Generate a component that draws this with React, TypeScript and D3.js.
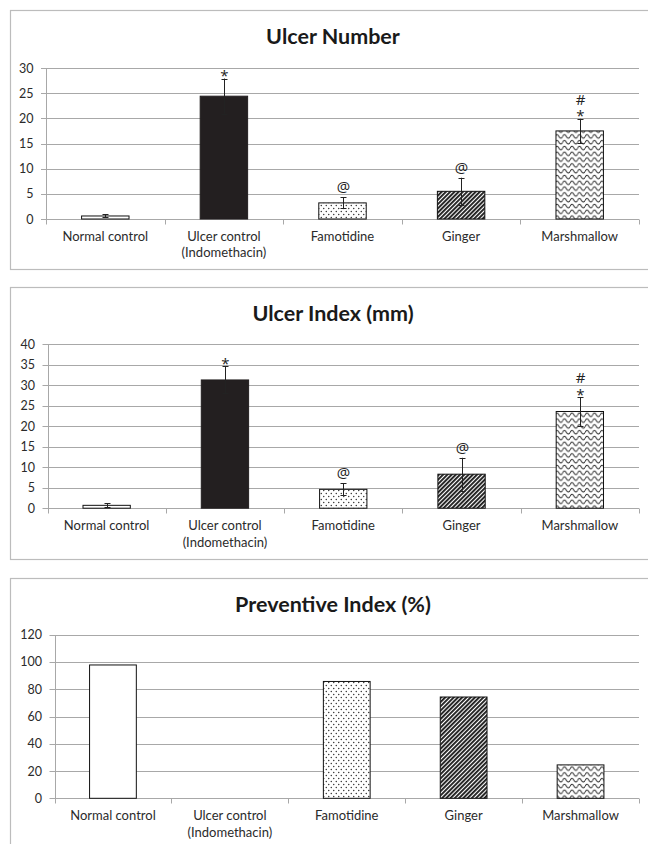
import * as d3 from "d3";

// three stacked bar panels, excel-ish look
const categories = [
  ["Normal control"],
  ["Ulcer control", "(Indomethacin)"],
  ["Famotidine"],
  ["Ginger"],
  ["Marshmallow"],
];

const ulcerNumber = [0.6, 24.4, 3.2, 5.5, 17.5];
const ulcerNumberSD = [0.3, 3.5, 1.1, 2.7, 2.4];
const ulcerNumberTicks = [0, 5, 10, 15, 20, 25, 30];

const ulcerIndex = [0.7, 31.3, 4.6, 8.3, 23.6];
const ulcerIndexSD = [0.5, 3.3, 1.5, 4.0, 3.5];
const ulcerIndexTicks = [0, 5, 10, 15, 20, 25, 30, 35, 40];

const preventiveIndex = [97.8, 0, 85.7, 74.3, 24.5];
const preventiveTicks = [0, 20, 40, 60, 80, 100, 120];

// significance signs above each bar (bottom one last)
const signs = [[], ["*"], ["@"], ["@"], ["#", "*"]];

const FONT = "Lato, 'Open Sans', sans-serif";
const SIGN_FONT = "'Open Sans', 'DejaVu Sans', sans-serif";
const barFills = ["#ffffff", "#231f20", "url(#dots)", "url(#stripes)", "url(#waves)"];
const PLOT_RIGHT = 639;

const crisp = (v: number) => Math.round(v) + 0.5;

type PanelProps = {
  title: string;
  values: number[];
  sd?: number[];
  marks?: string[][];
  ticks: number[];
  frameTop: number;
  frameBottom: number;
  titleY: number;
  yTop: number;
  yZero: number;
  axisX: number;
};

function Panel({ title, values, sd, marks, ticks, frameTop, frameBottom, titleY, yTop, yZero, axisX }: PanelProps) {
  const keys = categories.map((c) => c.join(" "));
  const x = d3.scaleBand<string>().domain(keys).range([axisX, PLOT_RIGHT]);
  const y = d3.scaleLinear().domain([0, d3.max(ticks)!]).range([yZero, yTop]);
  const barW = x.bandwidth() * 0.4;
  const y0 = crisp(y(0));

  return (
    <g>
      <rect x={10.5} y={frameTop + 0.5} width={700} height={frameBottom - frameTop} fill="#fff" stroke="#bcbcbc" strokeWidth={1.2} />
      <text x={333} y={titleY} textAnchor="middle" fontFamily={FONT} fontWeight={700} fontSize={21.5} fill="#1a1a1a">
        {title}
      </text>

      {/* gridlines + y ticks */}
      {ticks.map((t) => (
        <g key={t}>
          <line x1={axisX - 5} x2={PLOT_RIGHT} y1={crisp(y(t))} y2={crisp(y(t))} stroke="#a8a8a8" />
          <text x={axisX - 12.5} y={y(t)} dy="0.36em" textAnchor="end" fontFamily={FONT} fontSize={12.5} fill="#2b2b2b">
            {t}
          </text>
        </g>
      ))}
      <line x1={crisp(axisX)} x2={crisp(axisX)} y1={y0} y2={crisp(y(d3.max(ticks)!))} stroke="#a8a8a8" />
      <line x1={axisX} x2={PLOT_RIGHT} y1={y0} y2={y0} stroke="#a8a8a8" />
      {d3.range(keys.length + 1).map((i) => {
        const tx = crisp(axisX + i * x.step());
        return <line key={i} x1={tx} x2={tx} y1={y0} y2={y0 + 5} stroke="#a8a8a8" />;
      })}

      {/* bars */}
      {values.map((v, i) => {
        if (v <= 0) return null;
        const cx = x(keys[i])! + x.bandwidth() / 2;
        const top = y(v);
        return (
          <rect key={i} x={cx - barW / 2} y={top} width={barW} height={y(0) - top}
            fill={barFills[i]} stroke={i === 1 ? "#231f20" : "#111"} strokeWidth={1} />
        );
      })}

      {/* error bars + signs */}
      {sd &&
        values.map((v, i) => {
          const cx = crisp(x(keys[i])! + x.bandwidth() / 2);
          const hi = y(v + sd[i]);
          const lo = y(Math.max(0, v - sd[i]));
          let cursor = hi;
          const spans = (marks?.[i] || []).slice().reverse().map((s, j) => {
            let center;
            let base;
            if (s === "*") {
              center = cursor - 6.5;
              base = center + 9;
              cursor = center - 5;
            } else if (s === "#") {
              center = cursor - 8;
              base = center + 5.5;
              cursor = center - 6;
            } else {
              center = cursor - 9;
              base = center + 4;
              cursor = center - 7;
            }
            return (
              <tspan key={j} x={cx} y={base}>
                {s}
              </tspan>
            );
          });
          return (
            <g key={i}>
              <line x1={cx} x2={cx} y1={lo} y2={hi} stroke="#222" />
              <line x1={cx - 3} x2={cx + 3} y1={crisp(hi)} y2={crisp(hi)} stroke="#222" />
              <line x1={cx - 3} x2={cx + 3} y1={crisp(lo)} y2={crisp(lo)} stroke="#222" />
              {spans.length > 0 && (
                <text textAnchor="middle" fontFamily={SIGN_FONT} fontSize={15} fill="#222">
                  {spans.reverse()}
                </text>
              )}
            </g>
          );
        })}

      {/* category labels */}
      {categories.map((lines, i) => (
        <text key={i} textAnchor="middle" fontFamily={FONT} fontSize={13} fill="#2b2b2b">
          {lines.map((l, j) => (
            <tspan key={j} x={x(keys[i])! + x.bandwidth() / 2} y={y(0) + 22 + j * 16.3}>
              {l}
            </tspan>
          ))}
        </text>
      ))}
    </g>
  );
}

export default function App() {
  return (
    <svg width={648} height={844} style={{ position: "absolute", left: 0, top: 0, background: "#fff" }}>
      <defs>
        <pattern id="dots" width={5} height={6} patternUnits="userSpaceOnUse">
          <rect width={5} height={6} fill="#fff" />
          <circle cx={1.25} cy={1.5} r={0.7} fill="#222" />
          <circle cx={3.75} cy={4.5} r={0.7} fill="#222" />
        </pattern>
        <pattern id="stripes" width={3} height={3} patternUnits="userSpaceOnUse" patternTransform="rotate(45)">
          <rect width={3} height={3} fill="#fff" />
          <rect width={1.9} height={3} fill="#1e1e1e" />
        </pattern>
        <pattern id="waves" width={7.5} height={5.8} patternUnits="userSpaceOnUse">
          <rect width={7.5} height={5.8} fill="#fff" />
          <path d="M0,3.4 Q1.875,-0.6 3.75,2.9 T7.5,3.4" fill="none" stroke="#222" strokeWidth={1} />
        </pattern>
      </defs>

      <Panel title="Ulcer Number" values={ulcerNumber} sd={ulcerNumberSD} marks={signs} ticks={ulcerNumberTicks}
        frameTop={10} frameBottom={269} titleY={44} yTop={68} yZero={219} axisX={46} />
      <Panel title="Ulcer Index (mm)" values={ulcerIndex} sd={ulcerIndexSD} marks={signs} ticks={ulcerIndexTicks}
        frameTop={287} frameBottom={559} titleY={320.5} yTop={344.3} yZero={508.2} axisX={47.5} />
      <Panel title="Preventive Index (%)" values={preventiveIndex} ticks={preventiveTicks}
        frameTop={578} frameBottom={880} titleY={611.5} yTop={634.7} yZero={798.3} axisX={54.5} />
    </svg>
  );
}
